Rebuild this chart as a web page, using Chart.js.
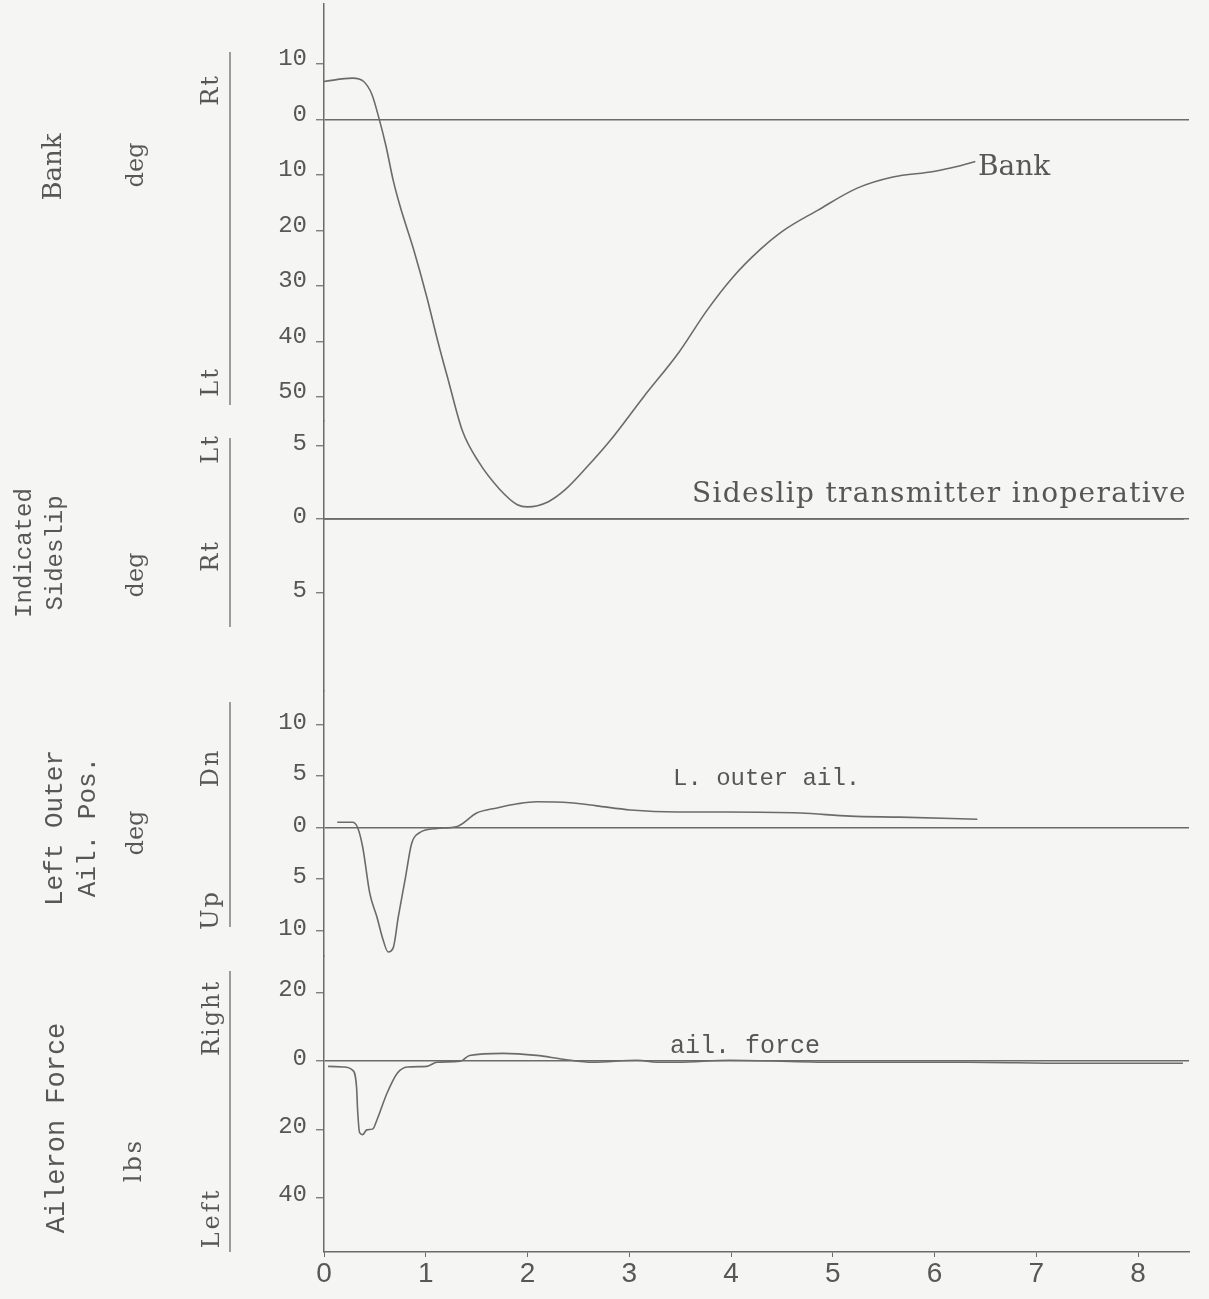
<!DOCTYPE html>
<html>
<head>
<meta charset="utf-8">
<title>Bank, sideslip and aileron time history</title>
<script src="https://cdn.jsdelivr.net/npm/chart.js@4.4.1/dist/chart.umd.min.js"></script>
<style>
  html, body { margin: 0; padding: 0; background: #f5f5f3; }
  body { width: 1209px; height: 1299px; overflow: hidden; position: relative; }
  #wrap { position: absolute; left: 0; top: -20px; width: 1209px; height: 1319px; }
</style>
</head>
<body>
<div id="wrap"><canvas id="chart" width="1209" height="1319"></canvas></div>
<script>
// time, sec
const timeTicks = [0, 1, 2, 3, 4, 5, 6, 7, 8];

// tick values (right / down / right positive) and the labels printed next to them
const bankTicks = [10, 0, -10, -20, -30, -40, -50];
const bankTickLabels = ['10', '0', '10', '20', '30', '40', '50'];
const sideslipTicks = [5, 0, -5];
const sideslipTickLabels = ['5', '0', '5'];
const ailPosTicks = [10, 5, 0, -5, -10];
const ailPosTickLabels = ['10', '5', '0', '5', '10'];
const ailForceTicks = [20, 0, -20, -40];
const ailForceTickLabels = ['20', '0', '20', '40'];

// bank angle, deg (right +)
const bankTime = [0, 0.28, 0.39, 0.47, 0.54, 0.61, 0.68, 0.75, 0.88, 1.01, 1.12, 1.22, 1.36, 1.52, 1.73, 1.90, 2.00,
  2.20, 2.37, 2.57, 2.81, 3.14, 3.49, 3.76, 4.02, 4.29, 4.51, 4.85, 5.24, 5.59, 5.99, 6.22, 6.40];
const bankDeg = [6.8, 7.4, 6.8, 4.5, 0.2, -4.9, -11.0, -15.8, -23.4, -32.0, -40.1, -46.9, -56.1, -61.7, -66.7, -69.4, -69.8,
  -68.9, -66.7, -62.9, -57.9, -50.0, -41.9, -34.5, -28.4, -23.4, -20.1, -16.4, -12.4, -10.4, -9.4, -8.5, -7.6];

// indicated sideslip, deg (transmitter inoperative)
const sideslipTime = [0, 8.45];
const sideslipDeg = [0, 0];

// left outer aileron position, deg (down +)
const ailPosTime = [0.13, 0.28, 0.33, 0.38, 0.45, 0.52, 0.58, 0.63, 0.68, 0.73, 0.80, 0.86, 0.94, 1.11, 1.31, 1.50,
  1.70, 1.90, 2.09, 2.42, 2.68, 3.01, 3.47, 3.96, 4.68, 5.17, 5.66, 6.42];
const ailPosDeg = [0.5, 0.5, 0, -1.9, -6.4, -8.7, -10.9, -12.1, -11.7, -8.7, -4.9, -1.6, -0.5, -0.1, 0.1, 1.4,
  1.9, 2.3, 2.5, 2.4, 2.1, 1.7, 1.5, 1.5, 1.4, 1.1, 1.0, 0.8];

// aileron force, lbs (right +)
const ailForceTime = [0.04, 0.19, 0.28, 0.32, 0.33, 0.35, 0.38, 0.42, 0.48, 0.52, 0.62, 0.72, 0.82, 1.01, 1.11, 1.34,
  1.43, 1.76, 2.09, 2.35, 2.64, 3.08, 3.27, 3.47, 3.99, 5.00, 6.32, 7.30, 8.44];
const ailForceLb = [-1.5, -1.7, -2.6, -7.6, -14.2, -20.9, -21.5, -20.1, -19.8, -17.2, -9.3, -3.5, -1.7, -1.5, -0.3, 0,
  1.7, 2.3, 1.7, 0.6, -0.3, 0.3, -0.3, -0.3, 0.3, -0.3, -0.3, -0.6, -0.6];

const TEXT = '#575757';
const LINE = '#6b6b6b';
const SHIFT = 20; // canvas starts 20px above the page
const mono = '"Liberation Mono", monospace';
const serif = '"DejaVu Serif", serif';

function pts(xs, ys) {
    return xs.map((x, i) => ({ x: x, y: ys[i] }));
}

function panelAxis(ticks, labels, labelOffset, extra) {
    return Object.assign({
        type: 'linear',
        position: 'left',
        stack: 'panels',
        offset: false,
        afterFit: axis => { axis.width = 324; },
        afterBuildTicks: axis => { axis.ticks = ticks.map(v => ({ value: v })); },
        border: { display: true, color: LINE, width: 1.5 },
        grid: {
            color: c => (c.tick && c.tick.value === 0 ? LINE : 'rgba(0,0,0,0)'),
            lineWidth: 1.5,
            tickColor: LINE,
            tickLength: 8,
            tickWidth: 1.2
        },
        ticks: {
            color: TEXT,
            font: { family: mono, size: 24 },
            padding: 9,
            labelOffset: labelOffset,
            autoSkip: false,
            callback: (v, i) => labels[i]
        },
        title: { display: false }
    }, extra);
}

function trace(data, yAxisID) {
    return {
        data: data,
        yAxisID: yAxisID,
        xAxisID: 'x',
        borderColor: LINE,
        borderWidth: 1.6,
        pointRadius: 0,
        fill: false,
        cubicInterpolationMode: 'monotone',
        clip: false
    };
}

// left hand labels, brackets and trace notes
const sideLabels = {
    id: 'sideLabels',
    afterDraw(chart, args, opts) {
        const ctx = chart.ctx;
        ctx.save();
        ctx.strokeStyle = LINE;
        ctx.lineWidth = 1.3;
        opts.brackets.forEach(b => {
            ctx.beginPath();
            ctx.moveTo(b[0], b[1] + SHIFT);
            ctx.lineTo(b[0], b[2] + SHIFT);
            ctx.stroke();
        });
        ctx.fillStyle = TEXT;
        opts.texts.forEach(t => {
            ctx.save();
            ctx.font = t.font;
            ctx.letterSpacing = t.spacing || '0px';
            ctx.translate(t.x, t.y + SHIFT);
            if (t.rotate) ctx.rotate(-Math.PI / 2);
            ctx.textAlign = t.align || 'center';
            ctx.textBaseline = t.baseline || 'middle';
            ctx.fillText(t.text, 0, 0);
            ctx.restore();
        });
        ctx.restore();
    }
};

const side = (text, x, y, font, spacing) => ({ text, x, y, font, spacing, rotate: true });
const note = (text, x, y, font, spacing) => ({ text, x, y, font, spacing, align: 'left', baseline: 'alphabetic' });

new Chart(document.getElementById('chart'), {
    type: 'line',
    data: {
        datasets: [
            trace(pts(bankTime, bankDeg), 'yBank'),
            trace(pts(sideslipTime, sideslipDeg), 'ySide'),
            trace(pts(ailPosTime, ailPosDeg), 'yAilPos'),
            trace(pts(ailForceTime, ailForceLb), 'yAilForce')
        ]
    },
    options: {
        responsive: false,
        animation: false,
        layout: { padding: { top: 22, left: 0, right: 20, bottom: 0 } },
        scales: {
            x: {
                type: 'linear',
                position: 'bottom',
                min: 0,
                max: 8.5,
                afterFit: axis => { axis.height = 47; },
                afterBuildTicks: axis => { axis.ticks = timeTicks.map(v => ({ value: v })); },
                border: { color: LINE, width: 1.5 },
                grid: { drawOnChartArea: false, tickColor: LINE, tickLength: 5 },
                ticks: {
                    color: TEXT,
                    font: { family: '"Liberation Sans", sans-serif', size: 28 },
                    padding: 0,
                    autoSkip: false,
                    maxRotation: 0
                }
            },
            yBank: panelAxis(bankTicks, bankTickLabels, -5,
                { min: -54.32, max: 20.86, stackWeight: 418, weight: 4 }),
            ySide: panelAxis(sideslipTicks, sideslipTickLabels, -2,
                { min: -11.70, max: 6.67, stackWeight: 270, weight: 3 }),
            yAilPos: panelAxis(ailPosTicks, ailPosTickLabels, -2,
                { min: -12.43, max: 13.30, stackWeight: 265, weight: 2 }),
            yAilForce: panelAxis(ailForceTicks, ailForceTickLabels, -3,
                { min: -55.85, max: 31.0, stackWeight: 297, weight: 1 })
        },
        plugins: {
            legend: { display: false },
            tooltip: { enabled: false },
            sideLabels: {
                brackets: [[230, 52, 405], [230, 438, 627], [230, 702, 927], [230, 971, 1252]],
                texts: [
                    side('Bank', 54, 167, '26px ' + serif),
                    side('deg', 137, 165, '24px ' + serif),
                    side('Rt', 212, 90, '24px ' + serif, '2px'),
                    side('Lt', 212, 382, '24px ' + serif, '2px'),
                    side('Indicated', 25, 553, '24px ' + mono),
                    side('Sideslip', 56, 553, '24px ' + mono),
                    side('deg', 137, 575, '24px ' + serif),
                    side('Lt', 212, 449, '24px ' + serif, '2px'),
                    side('Rt', 212, 556, '24px ' + serif, '2px'),
                    side('Left Outer', 55, 828, '26px ' + mono),
                    side('Ail. Pos.', 88, 827, '26px ' + mono),
                    side('deg', 137, 833, '24px ' + serif),
                    side('Dn', 212, 768, '24px ' + serif, '2px'),
                    side('Up', 212, 910, '24px ' + serif, '2px'),
                    side('Aileron Force', 57, 1128, '27px ' + mono),
                    side('lbs', 135, 1160, '24px ' + serif, '3px'),
                    side('Right', 213, 1018, '24px ' + serif, '2px'),
                    side('Left', 213, 1218, '24px ' + serif, '3px'),
                    note('Bank', 978, 175, '28px ' + serif),
                    note('Sideslip transmitter inoperative', 692, 502, '28px ' + serif, '1.3px'),
                    note('L. outer ail.', 673, 785, '24px ' + mono),
                    note('ail. force', 670, 1053, '25px ' + mono)
                ]
            }
        }
    },
    plugins: [sideLabels]
});
</script>
</body>
</html>
